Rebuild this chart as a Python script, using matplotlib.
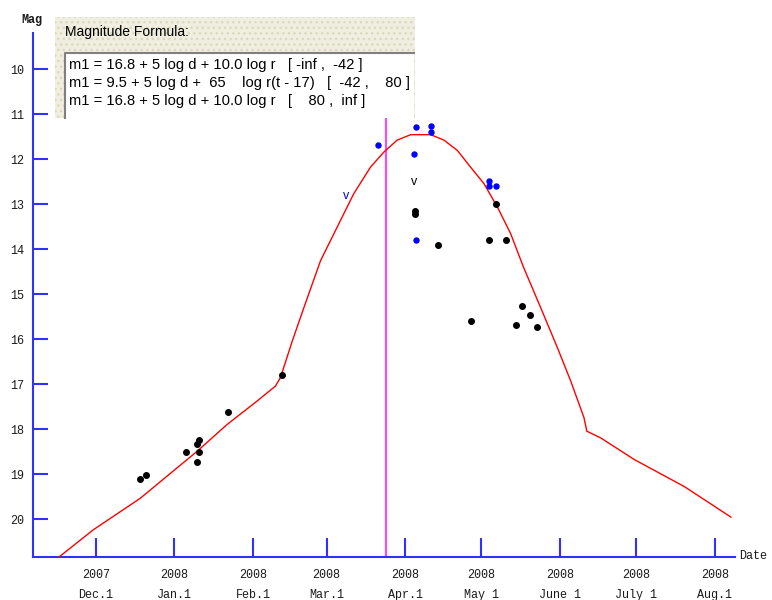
import datetime as dt
import matplotlib
matplotlib.use("Agg")
import matplotlib.pyplot as plt
from matplotlib.patches import Rectangle
from matplotlib.lines import Line2D

# ---------------- data (days since 2007-12-01, magnitude) ----------------
ref_date = dt.date(2007, 12, 1)

curve_day = [-14.3, -0.9, 17.6, 39.9, 51.8, 63.6, 70.8, 72.8, 77.5, 82.0, 88.6,
             95.1, 101.7, 108.3, 113.5, 118.8, 124.1, 132.0, 137.2, 142.5, 147.7,
             153.0, 158.3, 163.5, 168.6, 175.3, 181.9, 187.2, 192.4, 193.5, 199.0,
             212.2, 231.9, 250.3]
curve_mag = [20.83, 20.23, 19.53, 18.49, 17.89, 17.37, 17.04, 16.85, 16.03, 15.30, 14.25,
             13.51, 12.76, 12.17, 11.84, 11.57, 11.45, 11.45, 11.57, 11.80, 12.17,
             12.54, 13.06, 13.65, 14.40, 15.29, 16.18, 16.93, 17.74, 18.04, 18.19,
             18.67, 19.27, 19.95]

black_day = [17.6, 19.8, 35.4, 39.8, 40.9, 40.9, 39.8, 52.1, 73.4, 125.9, 125.9,
             134.7, 155.1, 161.5, 157.9, 167.9, 171.1, 147.7, 165.6, 173.9]
black_mag = [19.10, 19.01, 18.50, 18.32, 18.23, 18.50, 18.72, 17.62, 16.80, 13.15, 13.22,
             13.90, 13.80, 13.80, 12.99, 15.25, 15.45, 15.60, 15.69, 15.73]

blue_day = [111.3, 126.4, 132.0, 132.0, 125.4, 126.4, 155.1, 155.1, 157.9]
blue_mag = [11.68, 11.27, 11.25, 11.40, 11.87, 13.79, 12.49, 12.60, 12.60]

# upper-limit "v" marks
vmark_day = [98.7, 125.4]
vmark_mag = [12.81, 12.50]
vmark_color = ["#0000ff", "#000000"]

perihelion_day = 114.2

tick_dates = [dt.date(2007, 12, 1), dt.date(2008, 1, 1), dt.date(2008, 2, 1),
              dt.date(2008, 3, 1), dt.date(2008, 4, 1), dt.date(2008, 5, 1),
              dt.date(2008, 6, 1), dt.date(2008, 7, 1), dt.date(2008, 8, 1)]
tick_names = ["Dec.1", "Jan.1", "Feb.1", "Mar.1", "Apr.1", "May 1",
              "June 1", "July 1", "Aug.1"]
y_ticks = [10, 11, 12, 13, 14, 15, 16, 17, 18, 19, 20]

formula_title = "Magnitude Formula:"
formula_lines = [
    "m1 = 16.8 + 5 log d + 10.0 log r   [ -inf ,  -42 ]",
    "m1 = 9.5 + 5 log d +  65    log r(t - 17)   [  -42 ,    80 ]",
    "m1 = 16.8 + 5 log d + 10.0 log r   [    80 ,  inf ]",
]

# ---------------- figure ----------------
W, H = 772, 600
fig = plt.figure(figsize=(W / 100, H / 100), dpi=100)
fig.patch.set_facecolor("white")

def fx(px):
    return px / W

def fy(py):
    return 1 - py / H

axL, axR, axT, axB = 33, 735, 33, 556.7
ax = fig.add_axes([fx(axL), fy(axB), fx(axR - axL), fy(axT) - fy(axB)])
ax.set_facecolor("white")

axis_blue = "#3030ff"
for s in ["top", "right"]:
    ax.spines[s].set_visible(False)
for s in ["left", "bottom"]:
    ax.spines[s].set_color(axis_blue)
    ax.spines[s].set_linewidth(1.5)

ax.set_xlim(-24.7, 251.9)
ax.set_ylim(20.83, 9.19)

tick_pos = [(d - ref_date).days for d in tick_dates]
tick_lbl = [f"{d.year}\n{n}" for d, n in zip(tick_dates, tick_names)]
ax.set_xticks(tick_pos)
ax.set_xticklabels(tick_lbl, family="Liberation Mono", fontsize=8.5,
                   color="#1a1a1a", linespacing=1.9)
ax.set_yticks(y_ticks)
ax.set_yticklabels([str(v) for v in y_ticks], family="Liberation Mono",
                   fontsize=8.5, color="#1a1a1a")
ax.tick_params(axis="x", direction="in", length=14, width=1.5, color=axis_blue, pad=9)
ax.tick_params(axis="y", direction="in", length=11, width=1.5, color=axis_blue, pad=6)

# perihelion line
ax.axvline(perihelion_day, color="#ff44ff", lw=1.5, zorder=2)

# model curve
ax.plot(curve_day, curve_mag, color="#ff0000", lw=1.0, zorder=3, clip_on=True)

# observations
ax.plot(black_day, black_mag, "o", color="black", ms=4.0, zorder=4, clip_on=False)
ax.plot(blue_day, blue_mag, "o", color="#0000ff", ms=3.6, zorder=4, clip_on=False)
for d, m, c in zip(vmark_day, vmark_mag, vmark_color):
    ax.text(d, m, "v", color=c, fontsize=9, ha="center", va="center",
            family="Liberation Sans", zorder=4)

# axis titles
fig.text(fx(32), fy(20), "Mag", family="Liberation Mono", fontsize=8.5,
         color="#1a1a1a", ha="center", va="center", weight="bold")
fig.text(fx(739), fy(556), "Date", family="Liberation Mono", fontsize=8.5,
         color="#1a1a1a", ha="left", va="center")

# formula box
outer = Rectangle((fx(55), fy(118)), fx(415 - 55), fy(17) - fy(118),
                  transform=fig.transFigure, facecolor="#f0eee0",
                  edgecolor="#dcd8bc", hatch="...", lw=0, zorder=10)
fig.patches.append(outer)
inner = Rectangle((fx(65), fy(118)), fx(414 - 65), fy(53) - fy(118),
                  transform=fig.transFigure, facecolor="white",
                  edgecolor="none", zorder=11)
fig.patches.append(inner)
fig.lines.append(Line2D([fx(65), fx(65), fx(414)], [fy(118), fy(53), fy(53)],
                        transform=fig.transFigure, color="#808080", lw=1.5, zorder=12))
fig.text(fx(65), fy(32), formula_title, family="Liberation Sans", fontsize=10,
         color="black", ha="left", va="center", zorder=13)
for i, line in enumerate(formula_lines):
    fig.text(fx(69), fy(65 + 18 * i), line, family="Liberation Sans",
             fontsize=10.6, color="black", ha="left", va="center", zorder=13)

fig.savefig("out.png", dpi=100)
